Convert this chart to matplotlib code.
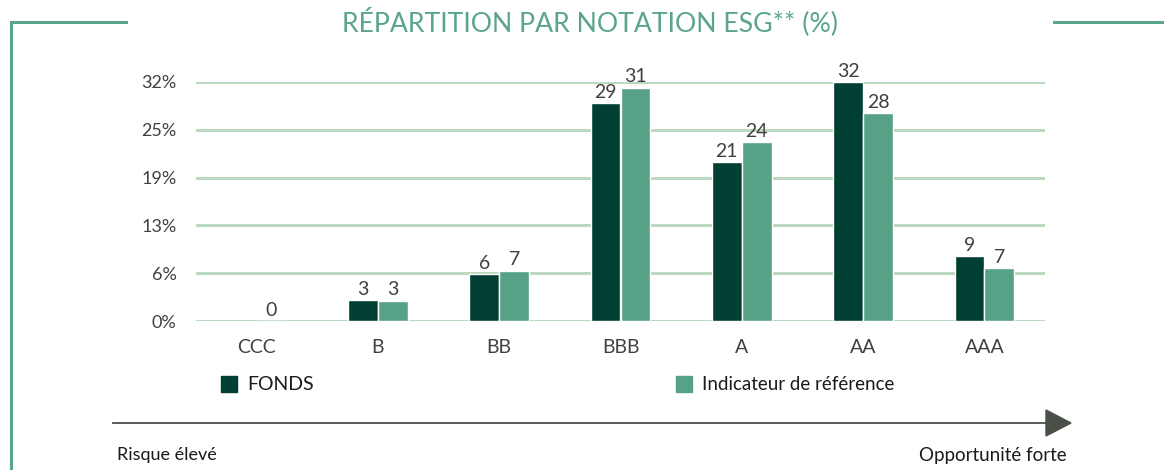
import matplotlib
matplotlib.use("Agg")
import matplotlib.pyplot as plt
import numpy as np
from matplotlib.patches import Rectangle, Polygon
from matplotlib.lines import Line2D

plt.rcParams['font.family'] = ['Lato', 'DejaVu Sans']

categories = ['CCC', 'B', 'BB', 'BBB', 'A', 'AA', 'AAA']
fonds = [np.nan, 2.8, 6.2, 28.9, 21.1, 31.7, 8.6]
reference = [0.0, 2.7, 6.7, 31.0, 23.8, 27.6, 7.0]
series_names = ['FONDS', 'Indicateur de référence']
tick_values = [0, 6.35, 12.7, 19.05, 25.4, 31.75]
tick_labels = ['0%', '6%', '13%', '19%', '25%', '32%']

dark = '#013f32'
light = '#57a286'
grid_col = '#bcd8bf'
frame_col = '#5ba688'
text_col = '#404040'

W, H = 1164, 470
fig = plt.figure(figsize=(W / 100, H / 100), dpi=100)
ax = fig.add_axes([196 / W, 1 - 321 / H, (1045 - 196) / W, (321 - 82) / H])

x = np.arange(len(categories))
bw = 0.245
off = 0.123
b1 = ax.bar(x - off, fonds, bw, color=dark, edgecolor='white', linewidth=1, zorder=3)
b2 = ax.bar(x + off, reference, bw, color=light, edgecolor='white', linewidth=1, zorder=3)

for bars, vals in ((b1, fonds), (b2, reference)):
    for rect, v in zip(bars, vals):
        if np.isnan(v):
            continue
        ax.text(rect.get_x() + rect.get_width() / 2, v + 0.3, f"{v:.0f}",
                ha='center', va='bottom', fontsize=14, color=text_col, zorder=4)

ax.set_xlim(-0.5, 6.5)
ax.set_ylim(0, 31.75)
ax.set_yticks(tick_values)
ax.set_yticklabels(tick_labels)
ax.set_xticks(x)
ax.set_xticklabels(categories)
ax.tick_params(axis='y', length=0, pad=14, labelsize=13, labelcolor=text_col)
ax.tick_params(axis='x', length=0, pad=13, labelsize=14, labelcolor=text_col)
ax.grid(axis='y', color=grid_col, linewidth=2.2, zorder=0)
ax.set_axisbelow(True)
for s in ax.spines.values():
    s.set_visible(False)

# title
fig.text(590 / W, 1 - 22 / H, 'RÉPARTITION PAR NOTATION ESG** (%)', ha='center', va='center',
         fontsize=19.2, color=frame_col)

# frame lines
fig.add_artist(Line2D([11 / W, 126 / W], [1 - 22 / H, 1 - 22 / H], color=frame_col, lw=2.2))
fig.add_artist(Line2D([11 / W, 11 / W], [1 - 22 / H, 0], color=frame_col, lw=2.2))
fig.add_artist(Line2D([1054 / W, 1 ], [1 - 22 / H, 1 - 22 / H], color=frame_col, lw=2.2))

# legend
for px, col, name, fs in ((221, dark, series_names[0], 14), (676, light, series_names[1], 13.5)):
    fig.add_artist(Rectangle((px / W, 1 - 392 / H), 16 / W, 16 / H, color=col))
    fig.text((px + 26) / W, 1 - 385 / H, name, ha='left', va='center', fontsize=fs, color='#1a1a1a')

# arrow
ya = 1 - 423 / H
fig.add_artist(Line2D([113 / W, 1048 / W], [ya, ya], color='#4a4f48', lw=1.3))
fig.add_artist(Polygon([[1046 / W, 1 - 410 / H], [1046 / W, 1 - 436 / H], [1071 / W, ya]],
                       closed=True, color='#4a4f48'))

fig.text(117 / W, 1 - 455 / H, 'Risque élevé', ha='left', va='center', fontsize=13, color='#1a1a1a')
fig.text(1067 / W, 1 - 455 / H, 'Opportunité forte', ha='right', va='center', fontsize=13.5, color='#1a1a1a')

fig.savefig('out.png', dpi=100)
